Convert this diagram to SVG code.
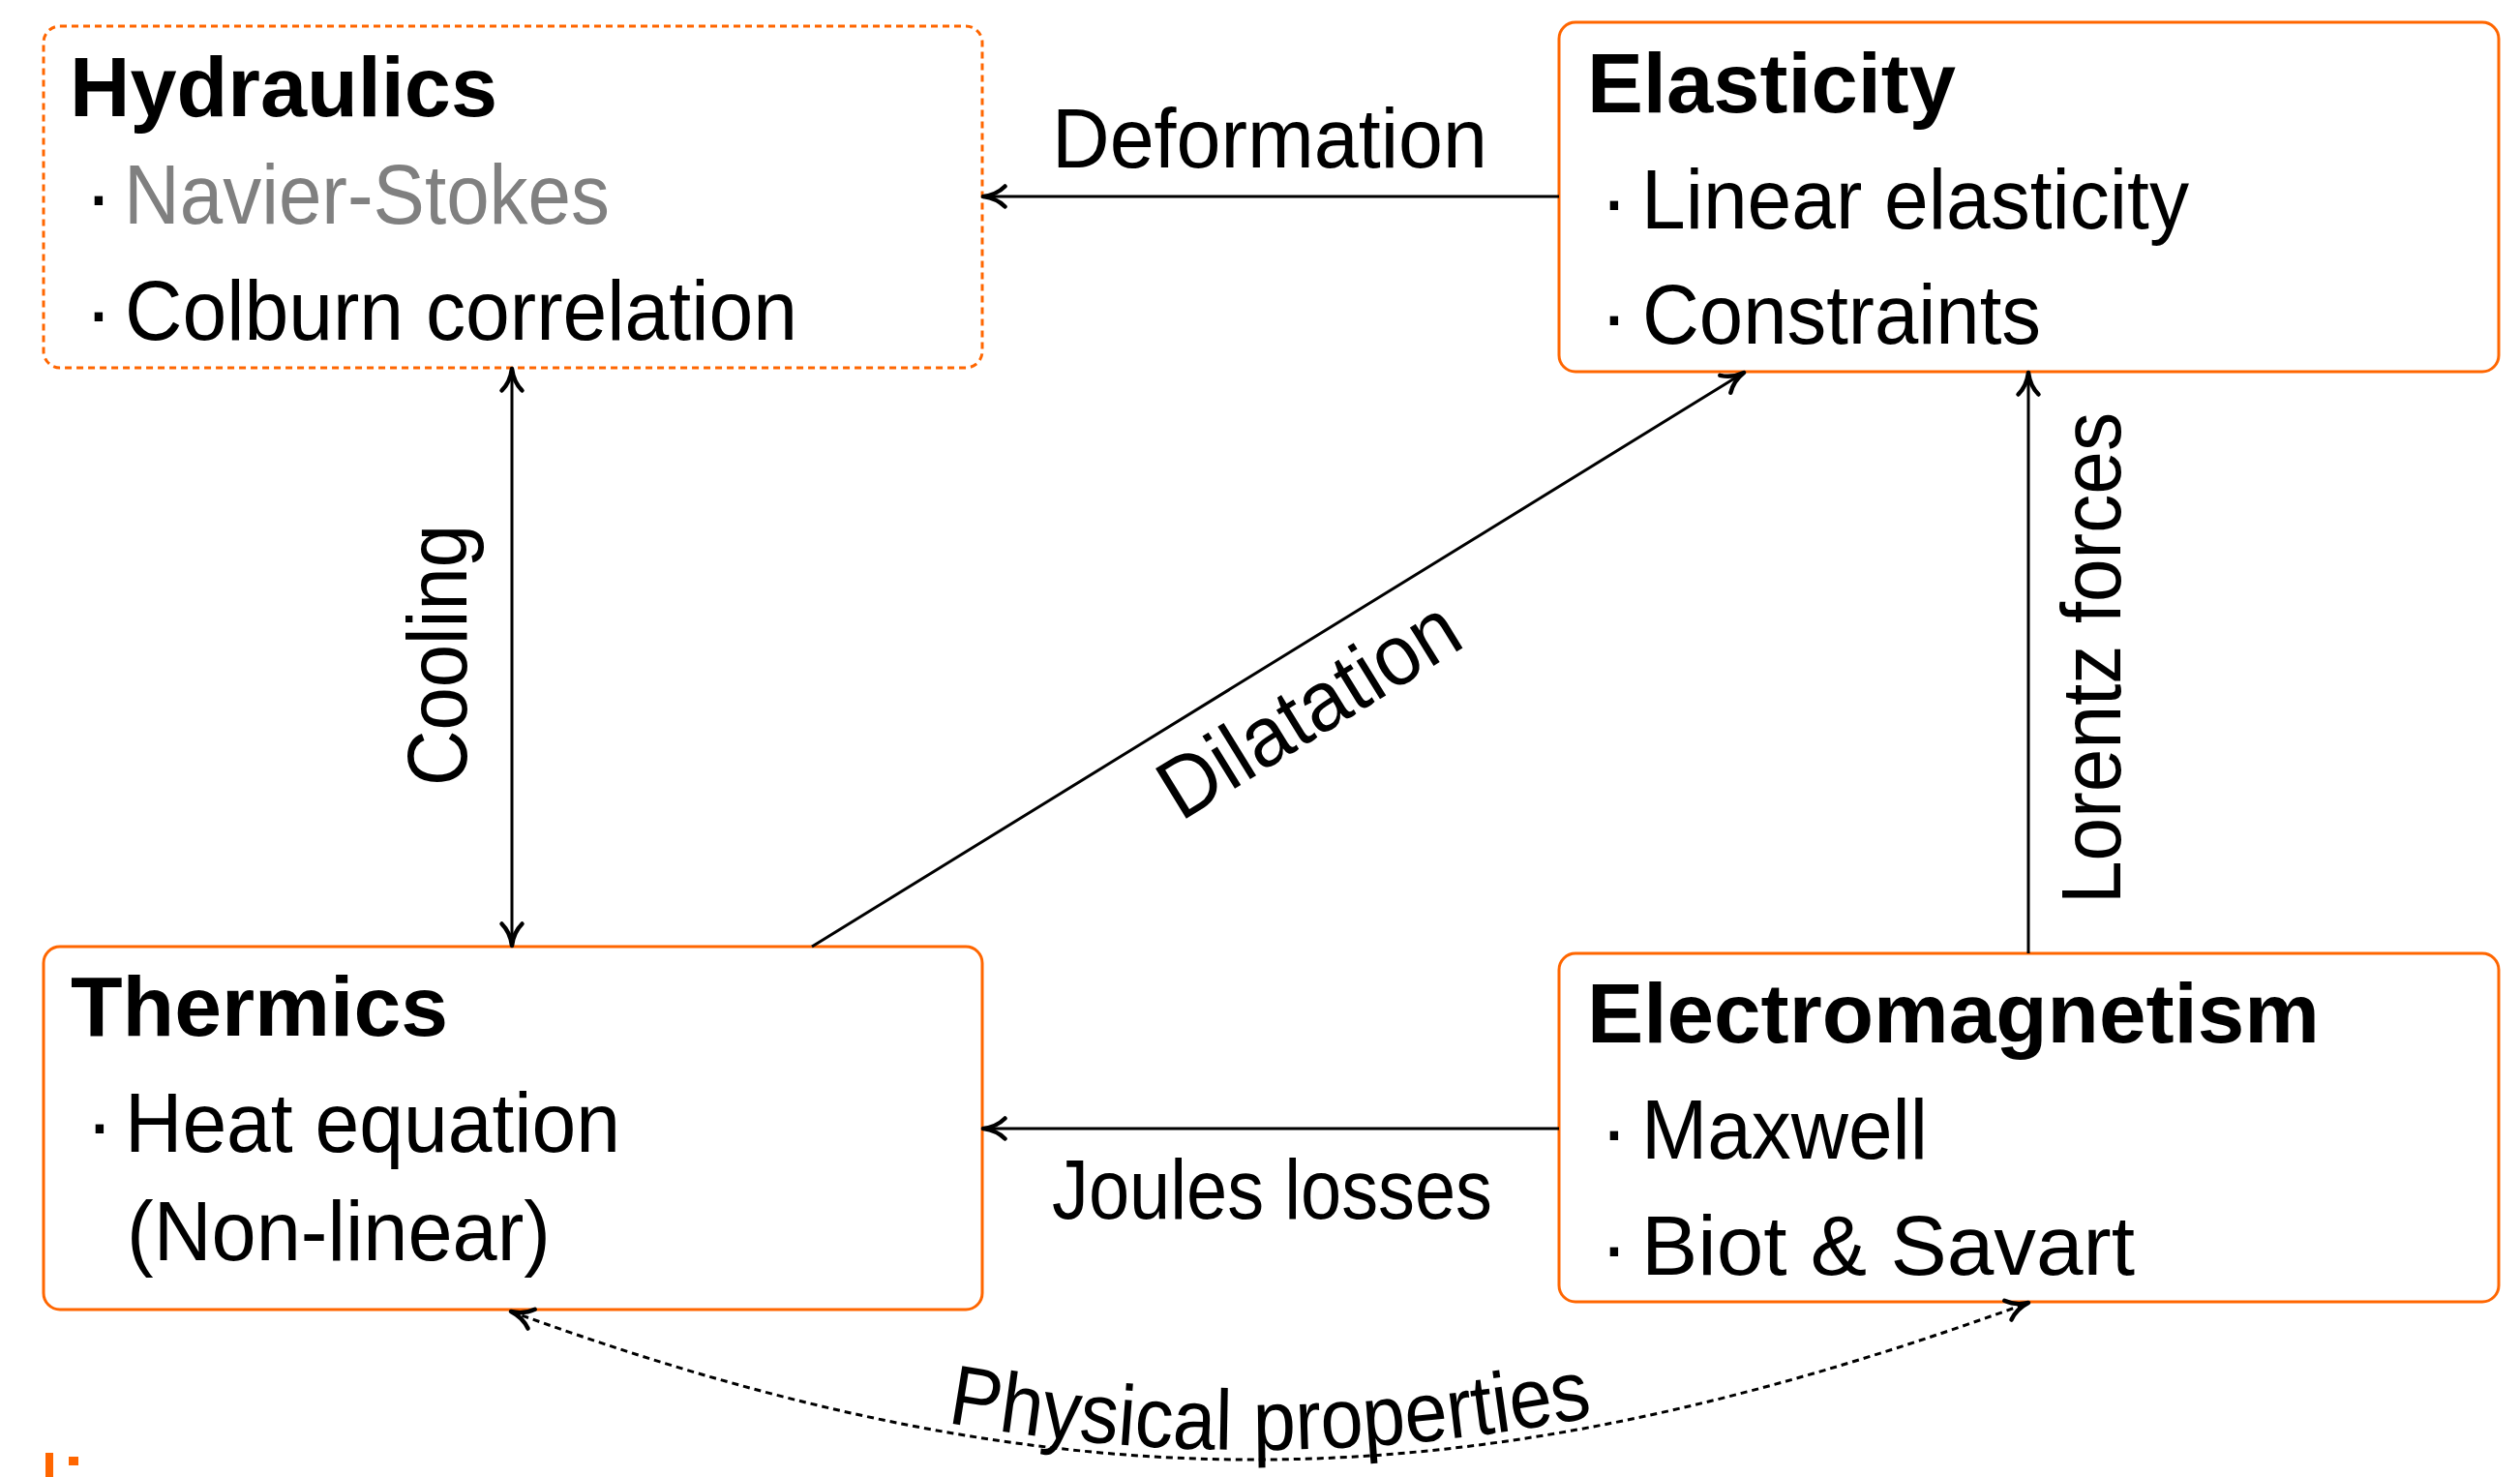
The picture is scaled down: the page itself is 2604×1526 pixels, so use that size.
<svg xmlns="http://www.w3.org/2000/svg" width="2604" height="1526" viewBox="0 0 2604 1526">
<style>
  .box { fill: #ffffff; stroke: #ff6600; stroke-width: 3; }
  .dash { stroke-dasharray: 7 5; }
  .t { font-family: "Liberation Sans", Arial, sans-serif; font-size: 88px; fill: #000000; }
  .b { font-weight: bold; }
  .gray { fill: #808080; }
  .bul { font-family: "Liberation Sans", Arial, sans-serif; font-size: 88px; fill: #000000; text-anchor: middle; }
  .lbl { font-family: "Liberation Sans", Arial, sans-serif; font-size: 88px; fill: #000000; }
  .conn { fill: none; stroke: #000000; stroke-width: 3; }
  .dotted { stroke-dasharray: 7 5; }
</style>
<defs>
  <marker id="arr" markerUnits="userSpaceOnUse" markerWidth="30" markerHeight="30" refX="0" refY="0" viewBox="-18 -10 20 20" orient="auto-start-reverse" overflow="visible">
    <path d="M -15,-7 C -10,-2 -4,-0.5 0,0 C -4,0.5 -10,2 -15,7" fill="none" stroke="#000000" stroke-width="3" stroke-linecap="round" stroke-linejoin="round"/>
  </marker>
</defs>

<g id="hydraulics">
  <rect class="box dash" x="45" y="27" width="970" height="353" rx="17" ry="17"/>
  <text class="t b" x="72" y="120" textLength="442" lengthAdjust="spacingAndGlyphs">Hydraulics</text>
  <text class="bul" x="102" y="231">·</text>
  <text class="t gray" x="128" y="231" textLength="502" lengthAdjust="spacingAndGlyphs">Navier-Stokes</text>
  <text class="bul" x="102" y="351">·</text>
  <text class="t" x="129" y="351" textLength="695" lengthAdjust="spacingAndGlyphs">Colburn correlation</text>
</g>

<g id="elasticity">
  <rect class="box" x="1611" y="23" width="971" height="361" rx="17" ry="17"/>
  <text class="t b" x="1640" y="116" textLength="381" lengthAdjust="spacingAndGlyphs">Elasticity</text>
  <text class="bul" x="1668" y="236">·</text>
  <text class="t" x="1696" y="236" textLength="566" lengthAdjust="spacingAndGlyphs">Linear elasticity</text>
  <text class="bul" x="1668" y="355">·</text>
  <text class="t" x="1697" y="355" textLength="412" lengthAdjust="spacingAndGlyphs">Constraints</text>
</g>

<g id="thermics">
  <rect class="box" x="45" y="978" width="970" height="375" rx="17" ry="17"/>
  <text class="t b" x="73" y="1070" textLength="390" lengthAdjust="spacingAndGlyphs">Thermics</text>
  <text class="bul" x="103" y="1190">·</text>
  <text class="t" x="129" y="1190" textLength="512" lengthAdjust="spacingAndGlyphs">Heat equation</text>
  <text class="t" x="131" y="1302" textLength="438" lengthAdjust="spacingAndGlyphs">(Non-linear)</text>
</g>

<g id="electromagnetism">
  <rect class="box" x="1611" y="985" width="971" height="360" rx="17" ry="17"/>
  <text class="t b" x="1640" y="1077" textLength="757" lengthAdjust="spacingAndGlyphs">Electromagnetism</text>
  <text class="bul" x="1668" y="1197">·</text>
  <text class="t" x="1696" y="1197" textLength="296" lengthAdjust="spacingAndGlyphs">Maxwell</text>
  <text class="bul" x="1668" y="1317">·</text>
  <text class="t" x="1696" y="1317" textLength="510" lengthAdjust="spacingAndGlyphs">Biot &amp; Savart</text>
</g>

<g id="connectors">
  <line class="conn" x1="1611" y1="203" x2="1016" y2="203" marker-end="url(#arr)"/>
  <text class="lbl" x="1087" y="173" textLength="450" lengthAdjust="spacingAndGlyphs">Deformation</text>

  <line class="conn" x1="529" y1="381" x2="529" y2="977" marker-start="url(#arr)" marker-end="url(#arr)"/>
  <text class="lbl" x="482" y="677" text-anchor="middle" textLength="270" lengthAdjust="spacingAndGlyphs" transform="rotate(-90 482 677)">Cooling</text>

  <line class="conn" x1="839" y1="978" x2="1802" y2="385" marker-end="url(#arr)"/>
  <text class="lbl" x="1368" y="758" text-anchor="middle" textLength="348" lengthAdjust="spacingAndGlyphs" transform="rotate(-31.67 1368 758)">Dilatation</text>

  <line class="conn" x1="2096" y1="985" x2="2096" y2="385" marker-end="url(#arr)"/>
  <text class="lbl" x="2191" y="680" text-anchor="middle" textLength="508" lengthAdjust="spacingAndGlyphs" transform="rotate(-90 2191 680)">Lorentz forces</text>

  <line class="conn" x1="1611" y1="1166" x2="1016" y2="1166" marker-end="url(#arr)"/>
  <text class="lbl" x="1087" y="1259" textLength="455" lengthAdjust="spacingAndGlyphs">Joules losses</text>

  <path class="conn dotted" d="M528,1355 C1105,1565 1519,1556 2096,1346" marker-start="url(#arr)" marker-end="url(#arr)"/>
  <path id="ppath" d="M528,1345 C1105,1555 1519,1546 2096,1336" fill="none" stroke="none"/>
  <text class="lbl"><textPath href="#ppath" startOffset="50%" text-anchor="middle" textLength="672" lengthAdjust="spacingAndGlyphs">Physical properties</textPath></text>
</g>

<rect x="47" y="1501" width="8" height="25" fill="#ff6600"/>
<rect x="71" y="1505" width="10" height="9" fill="#ff6600"/>
</svg>
